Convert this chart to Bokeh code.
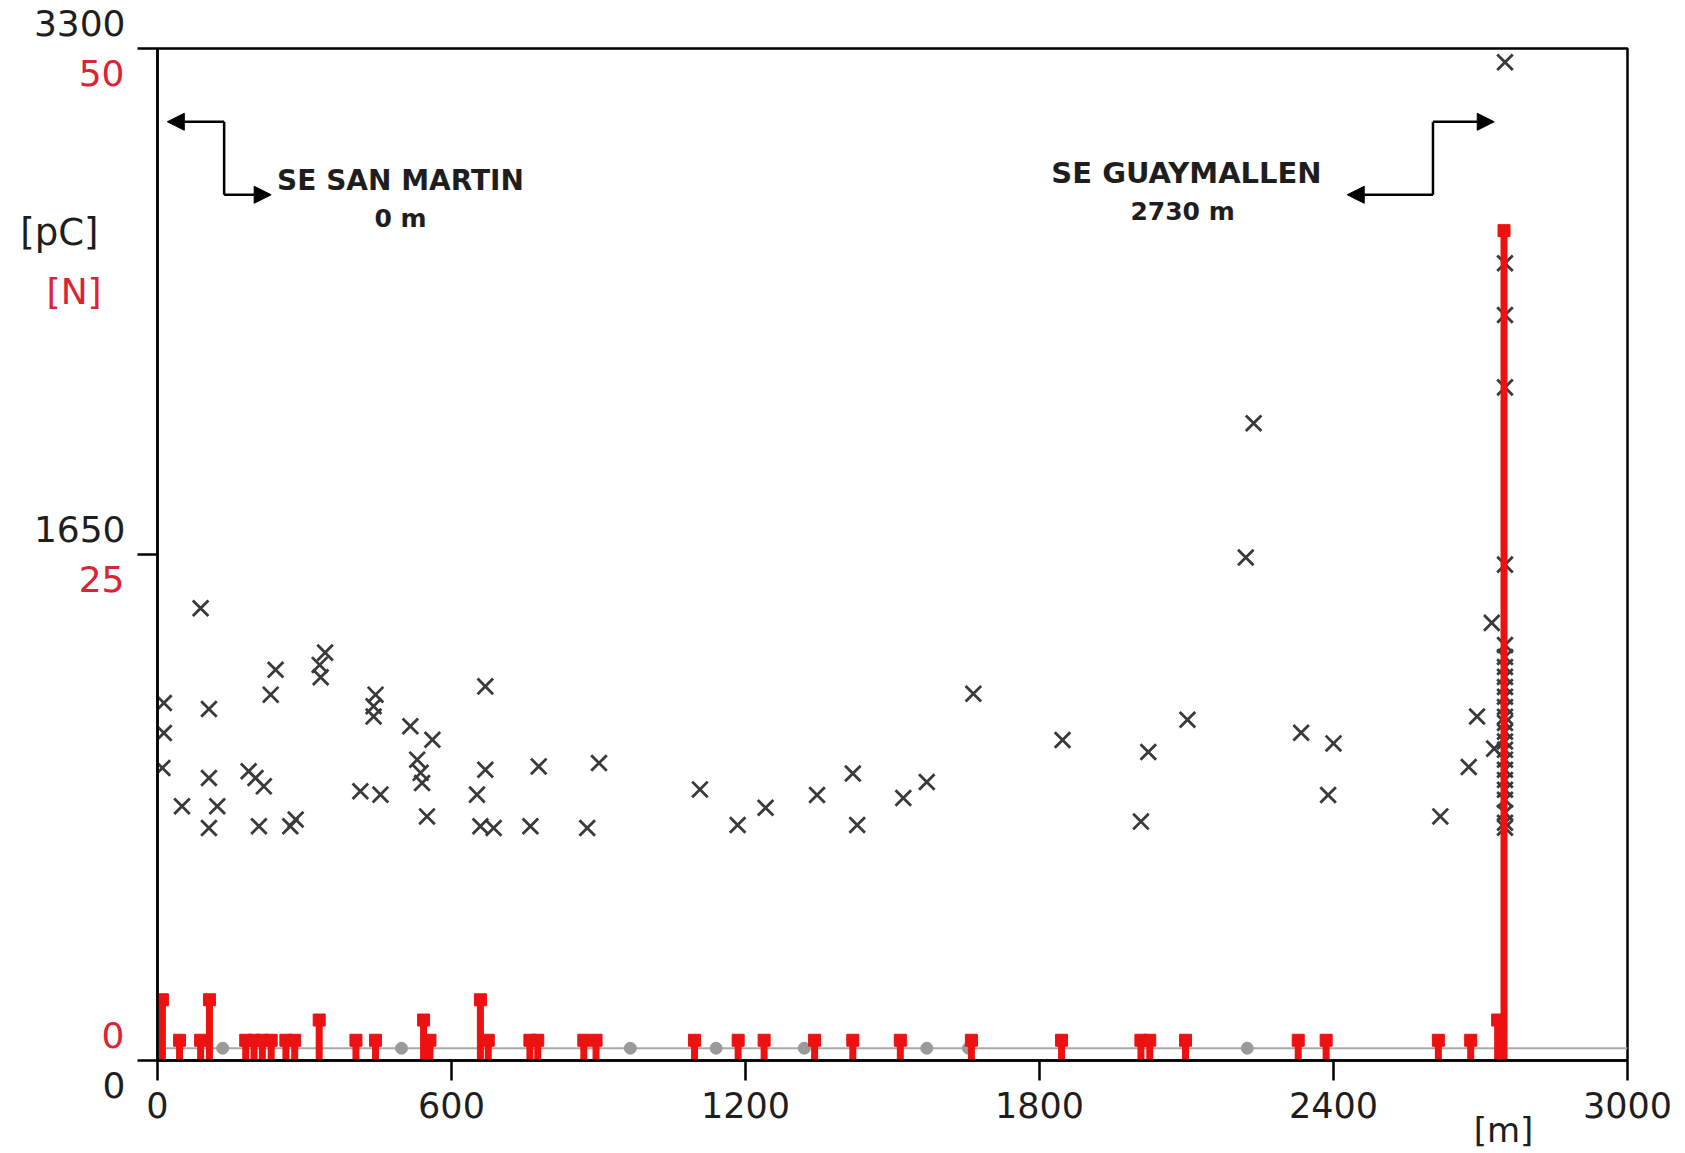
from bokeh.plotting import figure
from bokeh.models import Range1d, LinearAxis, FixedTicker, Span, Label, Arrow, NormalHead
from bokeh.embed import file_html
from bokeh.resources import INLINE

# ---------------- data ----------------
x_ticks = [0, 600, 1200, 1800, 2400, 3000]
pc_ticks = [0, 1650, 3300]
n_ticks = [0, 25, 50]

# partial discharge magnitude [pC] at distance [m]
pd_x = [88, 13, 105, 241, 231, 342, 331, 333, 13, 10, 105, 50, 122, 105, 186, 200, 217,
        207, 282, 271, 445, 441, 441, 516, 561, 530, 537, 540, 550, 414, 455, 669, 669,
        652, 659, 686, 761, 778, 901, 877,
        1107, 1184, 1241, 1346, 1419, 1428, 1522, 1570, 1665, 1847, 2007, 2022, 2102,
        2221, 2237, 2334, 2400, 2389, 2618, 2676, 2693, 2728, 2723,
        2750, 2750, 2750, 2750, 2750,
        2750, 2750, 2750, 2750, 2750, 2750, 2750, 2750, 2750, 2750,
        2750, 2750, 2750, 2750, 2750, 2750, 2750, 2750, 2750, 2750]
pd_pc = [1475, 1166, 1146, 1274, 1193, 1330, 1290, 1250, 1068, 954, 921, 829, 829, 758, 943, 921, 894,
         764, 786, 764, 1193, 1155, 1122, 1090, 1046, 981, 938, 905, 796, 878, 867, 1220, 948,
         867, 764, 758, 764, 959, 970, 758,
         884, 768, 824, 866, 936, 768, 856, 908, 1196, 1045, 779, 1006, 1111,
         1640, 2078, 1069, 1034, 866, 796, 957, 1122, 1017, 1427,
         3255, 2600, 2431, 2195, 1617,
         1355, 1316, 1283, 1251, 1218, 1186, 1153, 1121, 1101, 1072,
         1040, 1013, 981, 948, 915, 883, 850, 808, 775, 759]

# number of discharges [N] at distance [m]
n_x = [10, 45, 88, 106, 180, 197, 214, 232, 262, 280, 330, 405, 445, 543, 556, 659, 675,
       760, 776, 870, 895, 1096, 1185, 1238, 1341, 1419, 1516, 1661, 1845, 2007, 2025,
       2098, 2328, 2385, 2614, 2680, 2735, 2748]
n_val = [3, 1, 1, 3, 1, 1, 1, 1, 1, 1, 2, 1, 1, 2, 1, 3, 1,
         1, 1, 1, 1, 1, 1, 1, 1, 1, 1, 1, 1, 1, 1,
         1, 1, 1, 1, 1, 2, 41]

# low-level points on the threshold line
low_x = [133, 498, 965, 1140, 1320, 1570, 1655, 2224]
low_pc = [40, 40, 40, 40, 40, 40, 40, 40]
threshold_pc = 40

# unit captions (placed as single-tick axis labels)
pc_unit_at = 2700
n_unit_at = 38
m_unit_at = 2747

RED = "#EE1111"
RED_TXT = "#DD2233"
DARK = "#1e1e1e"
FONT = "DejaVu Sans"
NBSP = "\u00a0"

p = figure(width=1680, height=1152, output_backend="svg", toolbar_location=None,
           x_range=Range1d(0, 3000), y_range=Range1d(0, 3300),
           min_border_left=157, min_border_right=53, min_border_top=48, min_border_bottom=91)
p.extra_y_ranges = {"N": Range1d(0, 50)}
p.grid.visible = False
p.outline_line_color = "black"
p.outline_line_width = 2.5
p.background_fill_color = "white"
p.border_fill_color = "white"

# x axis
xa = p.xaxis[0]
xa.ticker = FixedTicker(ticks=x_ticks)
xa.major_tick_out = 20
xa.major_tick_in = 0
xa.minor_tick_line_color = None
xa.axis_line_width = 2.5
xa.major_tick_line_width = 2.5
xa.major_label_text_font = FONT
xa.major_label_text_font_size = "35px"
xa.major_label_text_color = DARK
xa.major_label_standoff = 11

# [m] caption axis below
ma = LinearAxis(ticker=FixedTicker(ticks=[m_unit_at]))
ma.axis_line_color = None
ma.major_tick_line_color = None
ma.minor_tick_line_color = None
ma.major_tick_out = 0
ma.major_tick_in = 0
ma.major_label_standoff = -11
ma.major_label_text_font = FONT
ma.major_label_text_font_size = "34px"
ma.major_label_text_color = DARK
ma.major_label_overrides = {m_unit_at: "[m]"}
p.add_layout(ma, "below")

# pC axis (black)
ya = p.yaxis[0]
ya.ticker = FixedTicker(ticks=pc_ticks)
ya.major_tick_out = 20
ya.major_tick_in = 0
ya.minor_tick_line_color = None
ya.axis_line_width = 2.5
ya.major_tick_line_width = 2.5
ya.major_label_text_font = FONT
ya.major_label_text_font_size = "36px"
ya.major_label_text_color = DARK
ya.major_label_standoff = 12
ya.major_label_overrides = {3300: "3300\n ", 1650: "1650\n ", 0: " \n0"}

# N axis (red)
na = LinearAxis(y_range_name="N", ticker=FixedTicker(ticks=n_ticks + [n_unit_at]))
na.axis_line_color = None
na.major_tick_line_color = None
na.minor_tick_line_color = None
na.major_tick_out = 0
na.major_tick_in = 0
na.major_label_standoff = -94
na.major_label_text_font = FONT
na.major_label_text_font_size = "36px"
na.major_label_text_color = RED_TXT
na.major_label_overrides = {50: " \n50", 25: " \n25", 0: "0\n ",
                            n_unit_at: "[N]" + NBSP * 2}
p.add_layout(na, "left")

# [pC] caption axis
ca = LinearAxis(ticker=FixedTicker(ticks=[pc_unit_at]))
ca.axis_line_color = None
ca.major_tick_line_color = None
ca.minor_tick_line_color = None
ca.major_tick_out = 0
ca.major_tick_in = 0
ca.major_label_standoff = -68
ca.major_label_text_font = FONT
ca.major_label_text_font_size = "37px"
ca.major_label_text_color = DARK
ca.major_label_overrides = {pc_unit_at: "[pC]"}
p.add_layout(ca, "left")

# threshold line
p.add_layout(Span(location=threshold_pc, dimension="width", line_color="#a8a8a8",
                  line_width=2, level="underlay"))

# glyphs
p.scatter(low_x, low_pc, marker="circle", size=12, fill_color="#9a9a9a", line_color="#9a9a9a")
p.scatter(pd_x, pd_pc, marker="x", size=22, line_color="#3a3a3a", line_width=2.8)
p.segment(x0=n_x, y0=[0] * len(n_x), x1=n_x, y1=n_val, y_range_name="N",
          line_color=RED, line_width=7)
p.scatter(n_x, n_val, marker="square", size=12, y_range_name="N",
          fill_color=RED, line_color=RED)

# station annotations
def head():
    return NormalHead(size=17, fill_color="black", line_color="black", line_width=1)

ya_top, ya_bot = 3061, 2823
p.add_layout(Arrow(end=head(), x_start=136, y_start=ya_top, x_end=20, y_end=ya_top,
                   line_width=2.5, line_color="black"))
p.add_layout(Arrow(end=None, x_start=136, y_start=ya_top, x_end=136, y_end=ya_bot,
                   line_width=2.5, line_color="black"))
p.add_layout(Arrow(end=head(), x_start=136, y_start=ya_bot, x_end=232, y_end=ya_bot,
                   line_width=2.5, line_color="black"))

p.add_layout(Arrow(end=head(), x_start=2603, y_start=ya_bot, x_end=2428, y_end=ya_bot,
                   line_width=2.5, line_color="black"))
p.add_layout(Arrow(end=None, x_start=2603, y_start=ya_bot, x_end=2603, y_end=ya_top,
                   line_width=2.5, line_color="black"))
p.add_layout(Arrow(end=head(), x_start=2603, y_start=ya_top, x_end=2728, y_end=ya_top,
                   line_width=2.5, line_color="black"))

for txt, x, y, fs in [("SE SAN MARTIN", 496, 2868, "28px"), ("0 m", 496, 2746, "25px"),
                      ("SE GUAYMALLEN", 2100, 2893, "29px"), ("2730 m", 2092, 2770, "25px")]:
    p.add_layout(Label(x=x, y=y, text=txt, text_align="center", text_baseline="middle",
                       text_font=FONT, text_font_size=fs, text_font_style="bold",
                       text_color=DARK))

open("out.html", "w").write(file_html(p, INLINE))
